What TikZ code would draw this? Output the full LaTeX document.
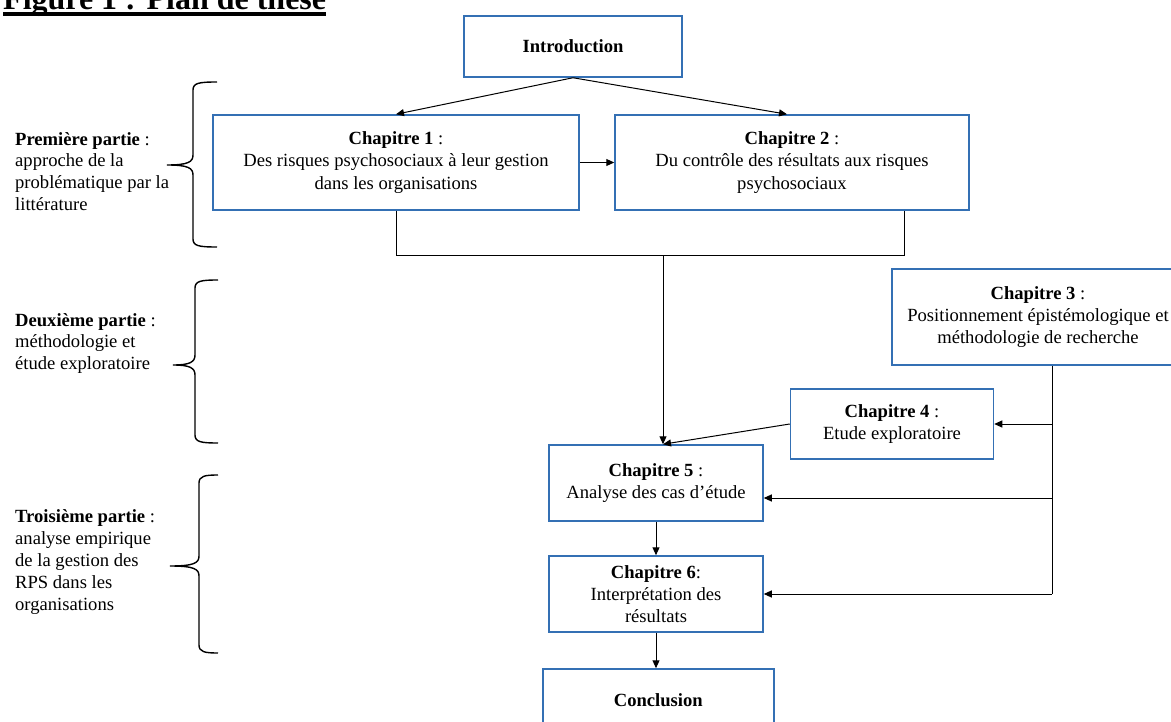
\documentclass[tikz,border=0pt]{standalone}
\usepackage{fontspec}
\setmainfont{Liberation Serif}
\usetikzlibrary{arrows.meta,calc}
\definecolor{boxblue}{RGB}{52,112,180}
\newcommand\partbrace[6]{% #1 xend, #2 xspine, #3 xtip, #4 ytop, #5 ymid, #6 ybot
  \draw[bracestyle] (#1,#4) .. controls (#2+6,#4) and (#2,#4+1) .. (#2,#4+8)
    -- (#2,#5-10) .. controls (#2,#5-3) and (#2-5,#5) .. (#3,#5)
    .. controls (#2-5,#5) and (#2,#5+3) .. (#2,#5+10)
    -- (#2,#6-8) .. controls (#2,#6-1) and (#2+6,#6) .. (#1,#6);}
\begin{document}
\begin{tikzpicture}[x=1pt,y=-1pt,
  chbox/.style={draw=boxblue, line width=1.5pt, inner sep=0pt, align=center,
    font=\fontsize{18.6}{22.2}\selectfont},
  arr/.style={-{Triangle[length=8pt,width=7pt]}, line width=1pt},
  conn/.style={line width=1pt},
  parttext/.style={anchor=west, inner sep=0pt, align=left,
    font=\fontsize{18.6}{21.8}\selectfont},
  bracestyle/.style={line width=1.4pt}]
\path[use as bounding box, clip] (0,0) rectangle (1171,722);

% title
\node[anchor=base west, inner sep=0pt, font=\fontsize{32}{36}\selectfont\bfseries]
  (title) at (3,9.5) {Figure 1 : Plan de thèse};
\draw[line width=3.4pt] ($(title.base west)+(0,4.5)$) -- ($(title.base east)+(0,4.5)$);

% boxes
\node[chbox, minimum width=218pt, minimum height=61pt] (intro) at (573,46.5) {\textbf{Introduction}};
\node[chbox, minimum width=366pt, minimum height=95pt] (ch1) at (396,162.5)
  {\textbf{Chapitre 1} :\\Des risques psychosociaux à leur gestion\\dans les organisations};
\node[chbox, minimum width=354pt, minimum height=95pt] (ch2) at (792,162.5)
  {\textbf{Chapitre 2} :\\Du contrôle des résultats aux risques\\psychosociaux};
\node[chbox, minimum width=292pt, minimum height=96pt] (ch3) at (1038,317)
  {\textbf{Chapitre 3} :\\Positionnement épistémologique et\\méthodologie de recherche};
\node[chbox, minimum width=203pt, minimum height=70pt] (ch4) at (892,424)
  {\textbf{Chapitre 4} :\\Etude exploratoire};
\node[chbox, minimum width=214pt, minimum height=76pt] (ch5) at (656,483)
  {\textbf{Chapitre 5} :\\Analyse des cas d’étude};
\node[chbox, minimum width=214pt, minimum height=76pt] (ch6) at (656,594)
  {\textbf{Chapitre 6}:\\Interprétation des\\résultats};
\node[chbox, minimum width=231pt, minimum height=62pt] (concl) at (658.3,700)
  {\textbf{Conclusion}};

% helper coordinates
\coordinate (m) at (663,256);
\coordinate (d2) at ($(ch2.south east)+(-65,0)$);
\coordinate (t) at ($(ch3.south)+(14,0)$);

% connectors
\draw[arr] (intro.south) -- (ch1.north);
\draw[arr] (intro.south) -- ($(ch2.north)+(-5,0)$);
\draw[arr] (ch1.east) -- (ch2.west);
\draw[conn] (ch1.south) |- (d2 |- m) -- (d2);
\draw[arr] (m) -- (m |- ch5.north);
\draw[arr] (ch4.west) -- (m |- ch5.north);
\draw[conn] (t) -- (t |- ch6.east);
\draw[arr] (t |- ch4.east) -- (ch4.east);
\draw[arr] (t |- {$(ch5.east)+(0,15)$}) -- ($(ch5.east)+(0,15)$);
\draw[arr] (t |- ch6.east) -- (ch6.east);
\draw[arr] (ch5.south) -- (ch6.north);
\draw[arr] (ch6.south) -- (ch6.south |- concl.north);

% part labels
\node[parttext] (p1) at (15,171.5) {\textbf{Première partie} :\\approche de la\\problématique par la\\littérature};
\node[parttext] (p2) at (15,343.5) {\textbf{Deuxième partie} :\\méthodologie et\\étude exploratoire};
\node[parttext] (p3) at (15,562) {\textbf{Troisième partie} :\\analyse empirique\\de la gestion des\\RPS dans les\\organisations};

% braces
\partbrace{217}{193}{167}{82}{165}{247}
\partbrace{218}{195}{173}{280}{365}{443}
\partbrace{218}{199}{170}{475}{566}{653}
\end{tikzpicture}
\end{document}
